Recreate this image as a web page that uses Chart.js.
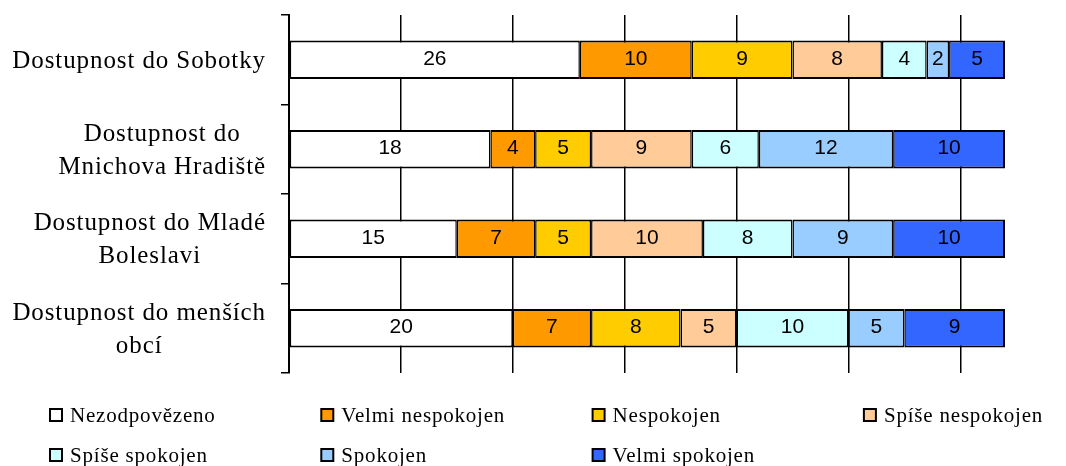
<!DOCTYPE html>
<html>
<head>
<meta charset="utf-8">
<script src="https://cdn.jsdelivr.net/npm/chart.js@4/dist/chart.umd.min.js"></script>
<style>
    body { margin: 0; background: #fff; }
</style>
</head>
<body>
<canvas id="dostupnostChart" width="1066" height="466"></canvas>
<script>
var categories = [
    ['Dostupnost do Sobotky'],
    ['Dostupnost do', 'Mnichova Hradiště'],
    ['Dostupnost do Mladé', 'Boleslavi'],
    ['Dostupnost do menších', 'obcí']
];
var seriesNames = ['Nezodpovězeno', 'Velmi nespokojen', 'Nespokojen', 'Spíše nespokojen',
    'Spíše spokojen', 'Spokojen', 'Velmi spokojen'];
var nezodpovezeno = [26, 18, 15, 20];
var velmiNespokojen = [10, 4, 7, 7];
var nespokojen = [9, 5, 5, 8];
var spiseNespokojen = [8, 9, 10, 5];
var spiseSpokojen = [4, 6, 8, 10];
var spokojen = [2, 12, 9, 5];
var velmiSpokojen = [5, 10, 10, 9];
var seriesValues = [nezodpovezeno, velmiNespokojen, nespokojen, spiseNespokojen,
    spiseSpokojen, spokojen, velmiSpokojen];
var seriesColors = ['#FFFFFF', '#FF9900', '#FFCC00', '#FFCC99', '#CCFFFF', '#99CCFF', '#3366FF'];
var axisMax = 64;

var serifFont = "'Liberation Serif', 'Times New Roman', serif";
var sansFont = "'Liberation Sans', Arial, sans-serif";

// value labels inside each segment
var valueLabels = {
    id: 'valueLabels',
    afterDatasetsDraw: function (chart) {
        var ctx = chart.ctx;
        ctx.save();
        ctx.letterSpacing = '0px';
        ctx.font = '21px ' + sansFont;
        ctx.fillStyle = '#000';
        ctx.textAlign = 'center';
        ctx.textBaseline = 'middle';
        chart.data.datasets.forEach(function (ds, i) {
            chart.getDatasetMeta(i).data.forEach(function (bar, j) {
                var p = bar.getCenterPoint();
                ctx.fillText(String(ds.data[j]), p.x, p.y - 1);
            });
        });
        ctx.restore();
    }
};

// category labels: block right-aligned, lines centred inside the block
var categoryLabels = {
    id: 'categoryLabels',
    afterDraw: function (chart) {
        var ctx = chart.ctx;
        var yScale = chart.scales.y;
        var right = chart.chartArea.left - 23;
        ctx.save();
        ctx.font = '25px ' + serifFont;
        ctx.letterSpacing = '0.9px';
        ctx.fillStyle = '#000';
        ctx.textAlign = 'center';
        ctx.textBaseline = 'alphabetic';
        chart.data.labels.forEach(function (lines, i) {
            var widest = 0;
            lines.forEach(function (l) {
                widest = Math.max(widest, ctx.measureText(l).width);
            });
            var cx = right - widest / 2;
            var cy = yScale.getPixelForValue(i);
            var first = cy - (lines.length - 1) * 33 / 2 + 8;
            lines.forEach(function (l, k) {
                ctx.fillText(l, cx, first + k * 33);
            });
        });
        ctx.restore();
    }
};

// legend in four columns under the plot
var gridLegend = {
    id: 'gridLegend',
    afterDraw: function (chart) {
        var ctx = chart.ctx;
        ctx.save();
        ctx.font = '21px ' + serifFont;
        ctx.letterSpacing = '0.8px';
        ctx.textAlign = 'left';
        ctx.textBaseline = 'alphabetic';
        chart.data.datasets.forEach(function (ds, i) {
            var col = i % 4;
            var row = Math.floor(i / 4);
            var x = 49 + col * 271.3;
            var y = 408 + row * 40;
            ctx.fillStyle = ds.backgroundColor;
            ctx.fillRect(x + 1, y + 1, 12, 12);
            ctx.strokeStyle = '#000';
            ctx.lineWidth = 2;
            ctx.strokeRect(x + 1, y + 1, 12, 12);
            ctx.fillStyle = '#000';
            ctx.fillText(ds.label, x + 21, y + 13.5);
        });
        ctx.restore();
    }
};

var datasets = seriesNames.map(function (name, i) {
    return {
        label: name,
        data: seriesValues[i],
        backgroundColor: seriesColors[i],
        borderColor: '#000',
        borderWidth: { top: 2, bottom: 2, left: 1.5, right: i === seriesNames.length - 1 ? 2 : 1.5 },
        borderSkipped: false,
        barPercentage: 0.43,
        categoryPercentage: 1
    };
});

var ctx = document.getElementById('dostupnostChart').getContext('2d');
var chart = new Chart(ctx, {
    type: 'bar',
    data: {
        labels: categories,
        datasets: datasets
    },
    options: {
        indexAxis: 'y',
        responsive: false,
        animation: false,
        layout: {
            padding: { top: 15, right: 61, bottom: 93, left: 0 }
        },
        scales: {
            x: {
                stacked: true,
                min: 0,
                max: axisMax,
                ticks: { display: false, stepSize: 10 },
                border: { display: false },
                grid: {
                    drawTicks: false,
                    lineWidth: 1.5,
                    color: function (c) {
                        return c.tick && c.tick.value % 10 === 0 ? '#000' : 'rgba(0,0,0,0)';
                    }
                }
            },
            y: {
                stacked: true,
                ticks: { display: false },
                border: { display: true, color: '#000', width: 2 },
                grid: {
                    drawOnChartArea: false,
                    drawTicks: true,
                    tickLength: 8,
                    color: '#000',
                    lineWidth: 1.5
                },
                afterFit: function (scale) {
                    scale.width = 289;
                }
            }
        },
        plugins: {
            legend: { display: false },
            tooltip: { enabled: false }
        }
    },
    plugins: [valueLabels, categoryLabels, gridLegend]
});
</script>
</body>
</html>
